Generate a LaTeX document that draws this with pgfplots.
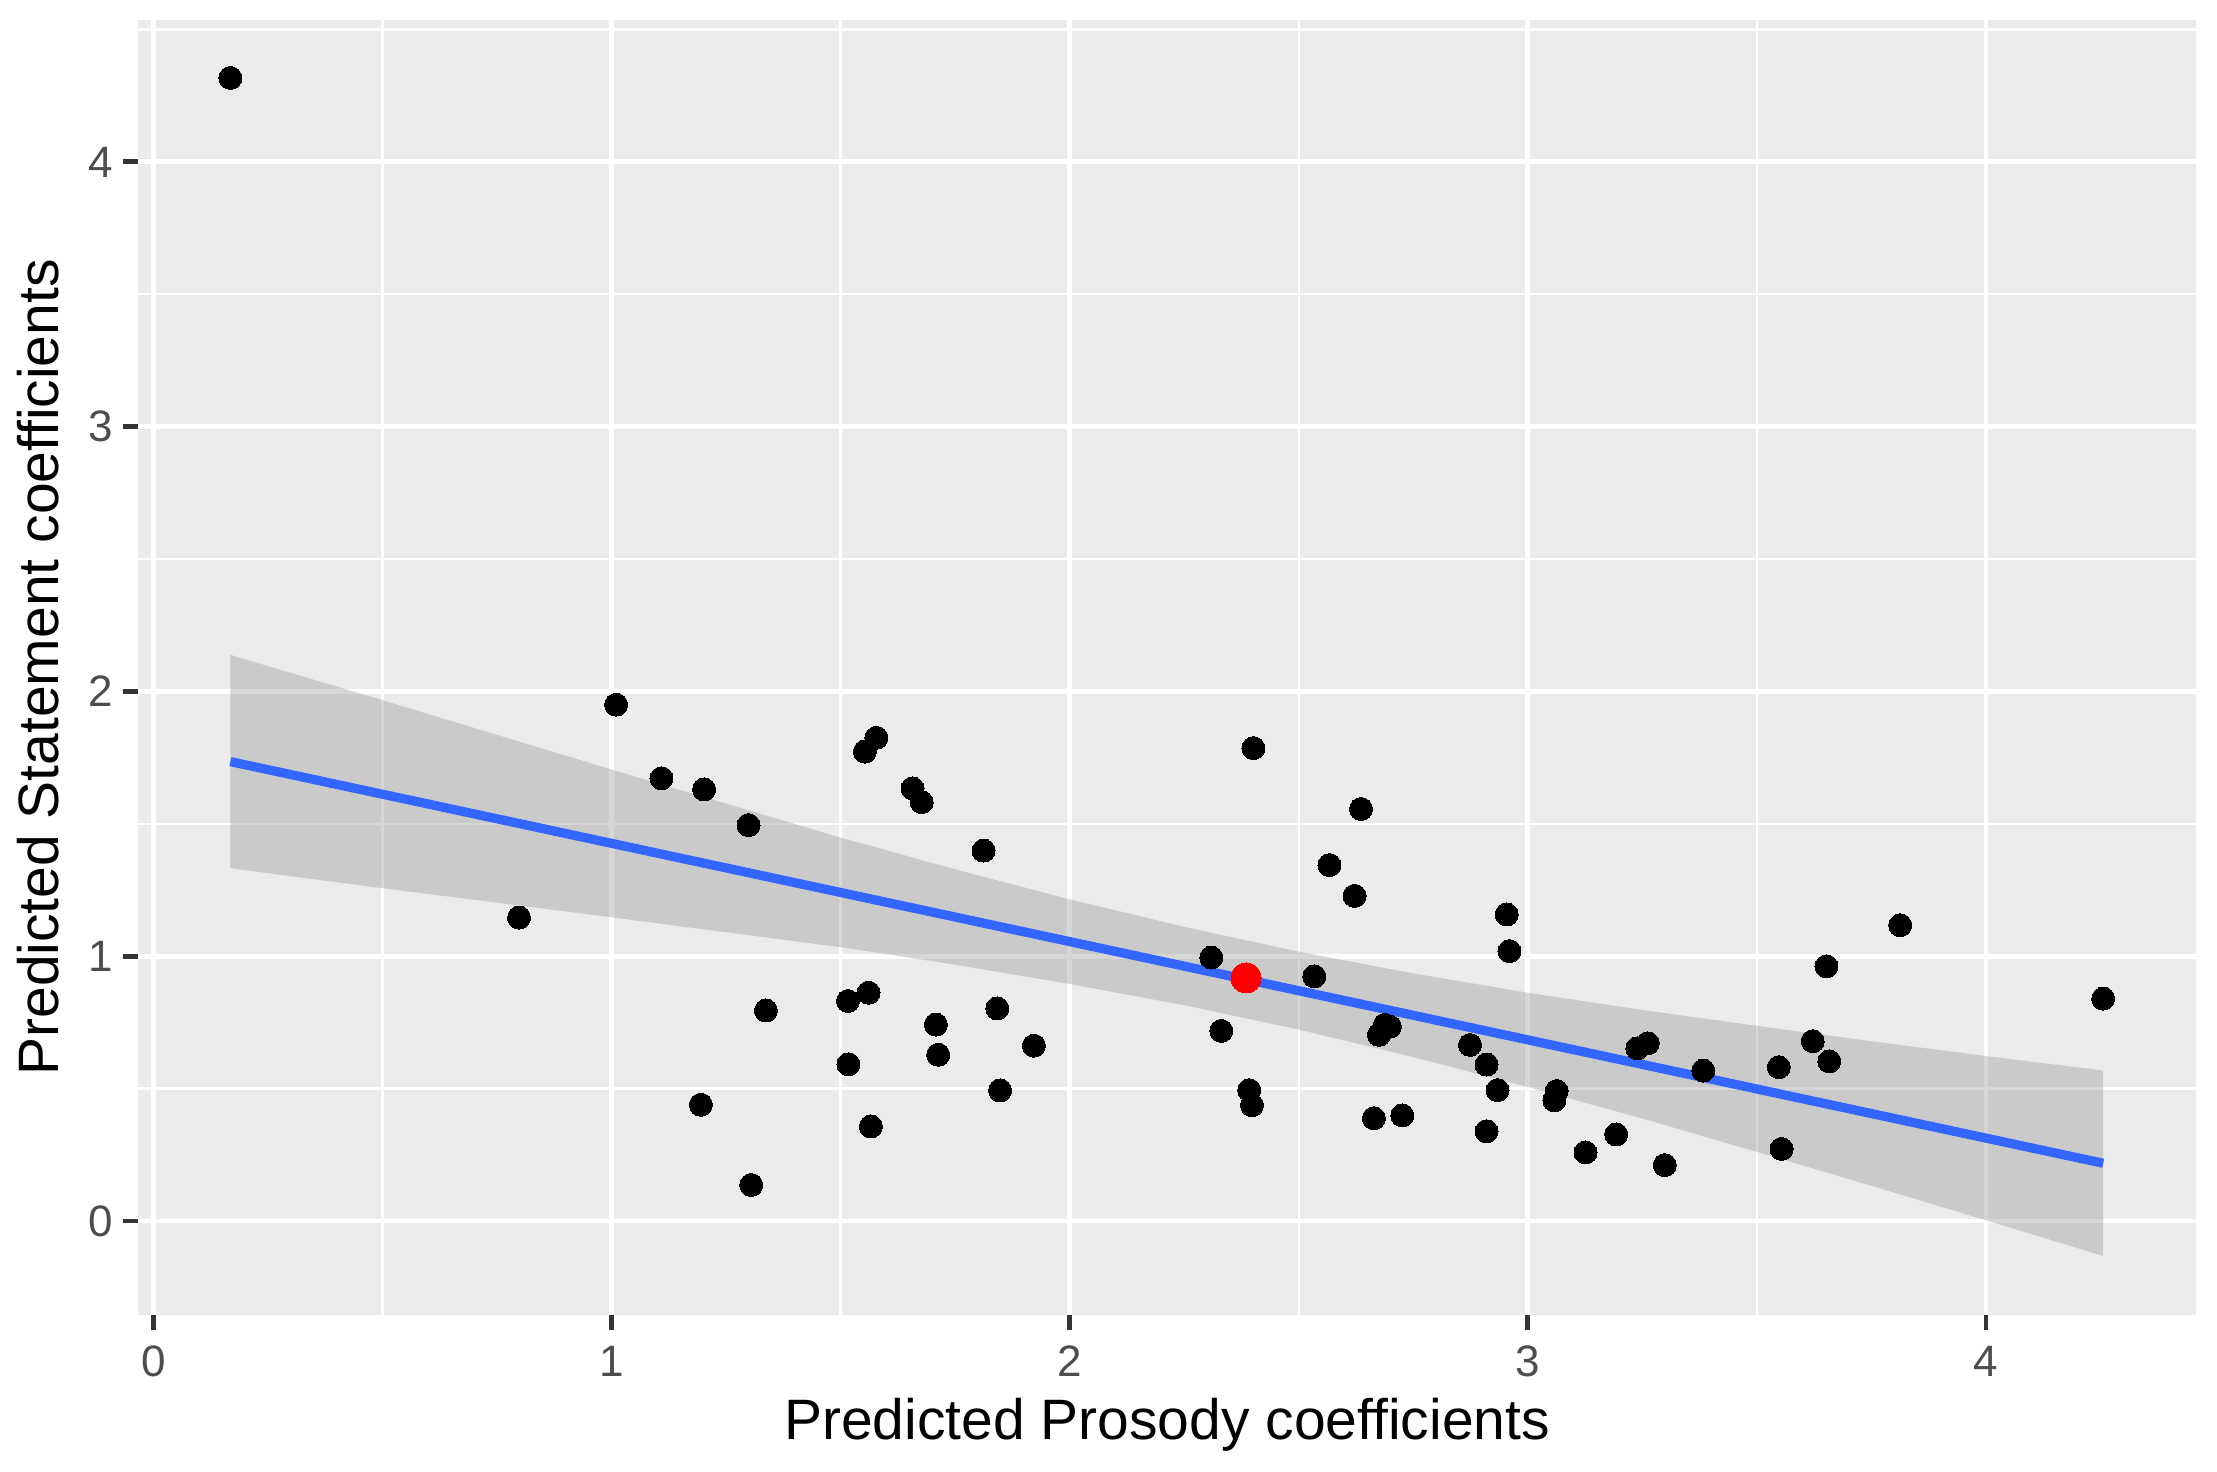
\documentclass[border=0pt]{standalone}
\usepackage{fontspec}
\setmainfont{Liberation Sans}
\usepackage{pgfplots}
\pgfplotsset{compat=1.18}
\usepackage{pgfplotstable}
\definecolor{panelbg}{HTML}{EBEBEB}
\definecolor{ggblue}{HTML}{3366FF}
\definecolor{ribbon}{HTML}{999999}
\definecolor{ticklab}{HTML}{4D4D4D}
\definecolor{tickcol}{HTML}{333333}

\pgfplotstableread{
x y
0.168 4.317
0.798 1.146
1.010 1.950
1.109 1.672
1.202 1.630
1.195 0.439
1.299 1.495
1.305 0.136
1.337 0.795
1.516 0.831
1.517 0.592
1.553 1.773
1.578 1.825
1.561 0.862
1.566 0.357
1.657 1.634
1.677 1.582
1.708 0.742
1.713 0.628
1.812 1.399
1.842 0.803
1.848 0.493
1.922 0.662
2.309 0.995
2.331 0.718
2.392 0.494
2.398 0.437
2.401 1.786
2.534 0.924
2.567 1.344
2.622 1.228
2.636 1.556
2.664 0.388
2.688 0.741
2.699 0.734
2.675 0.703
2.726 0.399
2.874 0.665
2.910 0.591
2.910 0.339
2.934 0.494
2.954 1.158
2.960 1.019
3.063 0.491
3.058 0.456
3.126 0.259
3.193 0.327
3.239 0.652
3.262 0.671
3.299 0.211
3.383 0.568
3.548 0.581
3.554 0.272
3.622 0.679
3.658 0.603
3.652 0.962
3.813 1.117
4.256 0.840
}\points

\pgfplotstableread{
x y
0.168 2.138
0.5 1.967
1.0 1.705
1.5 1.448
1.75 1.328
2.0 1.215
2.25 1.111
2.5 1.017
2.75 0.935
3.0 0.862
3.25 0.797
3.5 0.737
3.75 0.679
4.0 0.623
4.256 0.568
4.256 -0.132
4.0 0.003
3.75 0.133
3.5 0.261
3.25 0.387
3.0 0.506
2.75 0.619
2.5 0.723
2.25 0.815
2.0 0.895
1.75 0.968
1.5 1.034
1.0 1.147
0.5 1.257
0.168 1.332
}\band

\begin{document}
\begin{tikzpicture}
\begin{axis}[
  name=ax, scale only axis, width=514.35pt, height=323.75pt,
  xmin=-0.033, xmax=4.458, ymin=-0.355, ymax=4.536,
  axis background/.style={fill=panelbg},
  axis line style={draw=none},
  xtick={0,1,2,3,4}, ytick={0,1,2,3,4},
  minor xtick={0.5,1.5,2.5,3.5}, minor ytick={0.5,1.5,2.5,3.5,4.5},
  grid=both,
  major grid style={white, line width=1.2pt},
  minor grid style={white, line width=0.6pt},
  tick pos=left, tick align=outside,
  major tick length=3.75pt, minor tick length=0pt,
  major tick style={tickcol, line width=1.2pt},
  minor tick style={draw=none},
  tick label style={font=\fontsize{11}{13}\selectfont, text=ticklab, inner sep=0pt},
  /pgf/number format/assume math mode=true,
  xticklabel shift=3.75pt, yticklabel shift=2.5pt,
  xlabel={Predicted Prosody coefficients},
  ylabel={Predicted Statement coefficients},
  label style={font=\fontsize{14.25}{17}\selectfont, inner sep=0pt},
  xlabel style={at={(axis description cs:0.5,-0.09653)}, anchor=base},
  ylabel style={at={(axis description cs:-0.03888,0.5)}, anchor=base},
]
\addplot[black, only marks, mark=*, mark size=2.875pt, mark options={draw=black, fill=black, line width=0pt}] table {\points};
\addplot[draw=none, fill=ribbon, fill opacity=0.4] table {\band};
\addplot[ggblue, line width=2.3pt] coordinates {(0.168,1.735) (4.256,0.218)};
\addplot[red, only marks, mark=*, mark size=3.75pt, mark options={draw=red, fill=red, line width=0pt}] coordinates {(2.385,0.918)};
\end{axis}
\pgfresetboundingbox
\path[use as bounding box] ([xshift=-34.575pt,yshift=-39.25pt]ax.south west) rectangle ([xshift=5.325pt,yshift=5pt]ax.north east);
\end{tikzpicture}
\end{document}
